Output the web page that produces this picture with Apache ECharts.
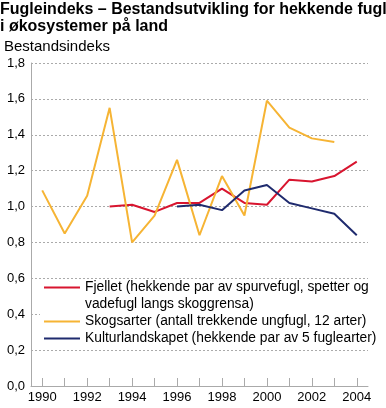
<!DOCTYPE html>
<html><head><meta charset="utf-8">
<script src="https://cdn.jsdelivr.net/npm/echarts@6/dist/echarts.min.js"></script>
<style>html,body{margin:0;padding:0;background:#fff}#c{width:386px;height:408px}</style>
</head><body><div id="c"></div>
<script>
const years = ['1990','1991','1992','1993','1994','1995','1996','1997','1998','1999','2000','2001','2002','2003','2004'];
const fjellet = [null,null,null,1.00,1.01,0.97,1.02,1.02,1.10,1.02,1.01,1.15,1.14,1.17,1.25];
const skog = [1.09,0.85,1.06,1.55,0.80,0.95,1.26,0.84,1.17,0.95,1.59,1.44,1.38,1.36,null];
const kultur = [null,null,null,null,null,null,1.00,1.01,0.98,1.09,1.12,1.02,0.99,0.96,0.84];
const names = ['Fjellet (hekkende par av spurvefugl, spetter og vadefugl langs skoggrensa)',
  'Skogsarter (antall trekkende ungfugl, 12 arter)',
  'Kulturlandskapet (hekkende par av 5 fuglearter)'];
const legendText = {};
legendText[names[0]] = '\nFjellet (hekkende par av spurvefugl, spetter og\nvadefugl langs skoggrensa)';
const colors = ['#d8152f','#f6b434','#1f2b6e'];
const FONT = 'Liberation Sans, Arial, sans-serif';
const chart = echarts.init(document.getElementById('c'), null, {renderer:'canvas'});
const mk = (name, data, color) => ({name, type:'line', data, symbol:'none', connectNulls:false,
  lineStyle:{color, width:2}, itemStyle:{color}, z:3});
chart.setOption({
  animation:false,
  textStyle:{fontFamily:FONT},
  title:[
    {text:'Fugleindeks – Bestandsutvikling for hekkende fugl\ni økosystemer på land', left:0, top:1, padding:0,
     textStyle:{fontFamily:FONT, fontSize:16, fontWeight:'bold', color:'#000', lineHeight:17}},
    {text:'Bestandsindeks', left:4, top:39, padding:0,
     textStyle:{fontFamily:FONT, fontSize:15, fontWeight:'normal', color:'#000'}}
  ],
  grid:{left:31, right:18, top:63, bottom:22, containLabel:false},
  graphic:[{type:'rect', left:40, top:281, z:1, shape:{width:330, height:65}, style:{fill:'#fff'}}],
  legend:{orient:'vertical', left:44, top:262, padding:0, itemGap:0, itemWidth:36, itemHeight:2,
    icon:'rect', textStyle:{fontFamily:FONT, fontSize:13.8, color:'#000', lineHeight:17},
    formatter:n => legendText[n] || n,
    data:names},
  xAxis:{type:'category', data:years, boundaryGap:true,
    axisLine:{lineStyle:{color:'#aaa', width:1}},
    axisTick:{show:true, inside:true, length:8, alignWithLabel:true, interval:0, lineStyle:{color:'#aaa'}},
    axisLabel:{interval:1, color:'#000', fontSize:13, margin:5, fontFamily:FONT}},
  yAxis:{type:'value', min:0, max:1.8, interval:0.2,
    axisLine:{show:true, lineStyle:{color:'#aaa'}}, axisTick:{show:false},
    splitLine:{lineStyle:{color:'#aaa', type:[2,2]}},
    axisLabel:{color:'#000', fontSize:13, margin:6, fontFamily:FONT, formatter:v=>v.toFixed(1).replace('.',',')}},
  series:[mk(names[0], fjellet, colors[0]), mk(names[1], skog, colors[1]), mk(names[2], kultur, colors[2])]
});
</script></body></html>
